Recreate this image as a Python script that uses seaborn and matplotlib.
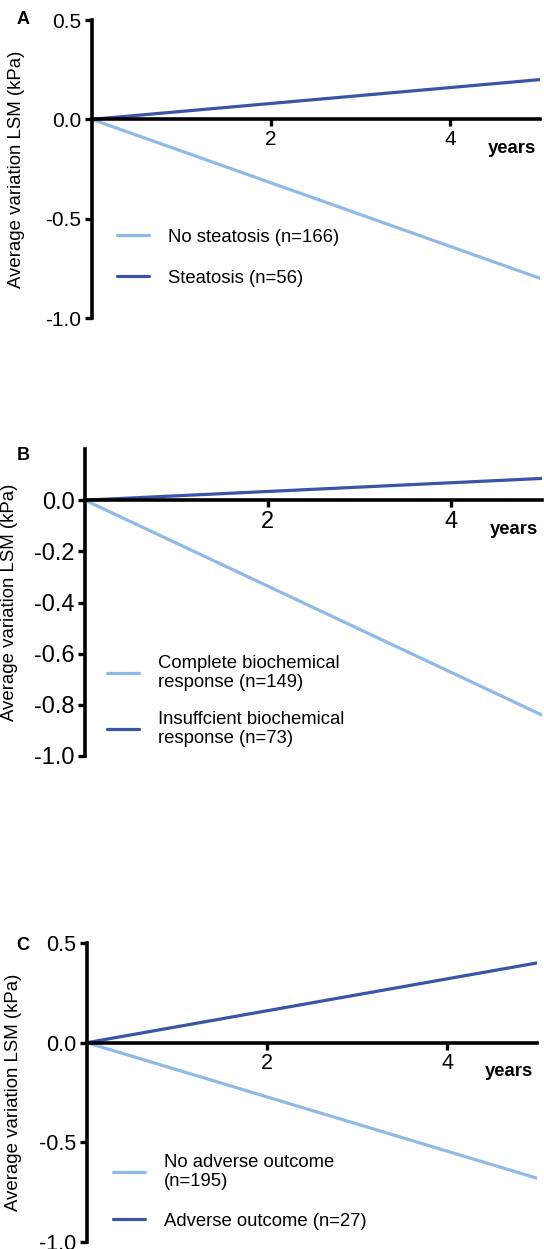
import pandas as pd
import matplotlib
matplotlib.use('Agg')
import matplotlib.pyplot as plt
import seaborn as sns

# data: change in LSM from baseline to 5 years
years = [0, 5]

a_labels = ['No steatosis (n=166)', 'Steatosis (n=56)']
a_values = [[0, -0.80], [0, 0.20]]

b_labels = ['Complete biochemical\nresponse (n=149)', 'Insuffcient biochemical\nresponse (n=73)']
b_values = [[0, -0.84], [0, 0.085]]

c_labels = ['No adverse outcome\n(n=195)', 'Adverse outcome (n=27)']
c_values = [[0, -0.68], [0, 0.40]]

light_blue = '#8fb9e6'
dark_blue = '#3a55a8'

sns.set_style('ticks')
plt.rcParams['font.family'] = ['Liberation Sans', 'DejaVu Sans']
plt.rcParams['text.color'] = 'black'
plt.rcParams['axes.labelcolor'] = 'black'
plt.rcParams['xtick.color'] = 'black'
plt.rcParams['ytick.color'] = 'black'

W, H = 544, 1249
fig = plt.figure(figsize=(W / 100, H / 100), dpi=100)


def make_df(labels, values):
    rows = []
    for lab, vals in zip(labels, values):
        for x, y in zip(years, vals):
            rows.append({'years': x, 'lsm': y, 'group': lab})
    return pd.DataFrame(rows)


def panel(rect, labels, values, ylim, yticks, tick_fs, leg_xy, leg_spacing, ylab_x, letter, letter_xy):
    ax = fig.add_axes(rect)
    df = make_df(labels, values)
    sns.lineplot(data=df, x='years', y='lsm', hue='group', hue_order=labels,
                 palette=[light_blue, dark_blue], linewidth=2.3, ax=ax)
    ax.set_xlim(0, 5)
    ax.set_ylim(*ylim)
    ax.set_yticks(yticks)
    ax.set_yticklabels(['%.1f' % t for t in yticks])
    ax.set_xticks([2, 4])
    ax.set_xticklabels(['2', '4'])
    for s in ['top', 'right']:
        ax.spines[s].set_visible(False)
    for s in ['left', 'bottom']:
        ax.spines[s].set_linewidth(2.6)
        ax.spines[s].set_color('black')
    ax.spines['bottom'].set_position(('data', 0))
    ax.tick_params(axis='both', width=2.4, length=5, color='black',
                   labelsize=tick_fs, pad=2.5)
    ax.set_xlabel('')
    ax.set_ylabel('Average variation LSM (kPa)', fontsize=13.4)
    ax.yaxis.set_label_coords(ylab_x, 0.5)
    ax.annotate('years', xy=(5, 0), xytext=(-4, -29), textcoords='offset pixels',
                ha='right', va='center', fontsize=13.3, fontweight='bold')
    ax.legend(loc='upper left', bbox_to_anchor=leg_xy, frameon=False, fontsize=13.3,
              handlelength=1.75, handletextpad=1.0, labelspacing=leg_spacing,
              borderaxespad=0, borderpad=0)
    fig.text(letter_xy[0] / W, 1 - letter_xy[1] / H, letter, fontsize=13,
             fontweight='bold', ha='center', va='center')
    return ax


panel([92 / W, 1 - 318 / H, 448 / W, 298 / H], a_labels, a_values,
      (-1.0, 0.5), [-1.0, -0.5, 0.0, 0.5], 15, (0.056, 0.30), 1.3, -0.15, 'A', (23, 20))

panel([85 / W, 1 - 756 / H, 457 / W, 307 / H], b_labels, b_values,
      (-1.0, 0.2), [-1.0, -0.8, -0.6, -0.4, -0.2, 0.0], 17, (0.048, 0.33), 1.05, -0.147, 'B', (23, 456))

panel([87 / W, 1 - 1242 / H, 450 / W, 299 / H], c_labels, c_values,
      (-1.0, 0.5), [-1.0, -0.5, 0.0, 0.5], 15.5, (0.058, 0.295), 1.2, -0.144, 'C', (23, 945))

fig.savefig('out.png', dpi=100)
